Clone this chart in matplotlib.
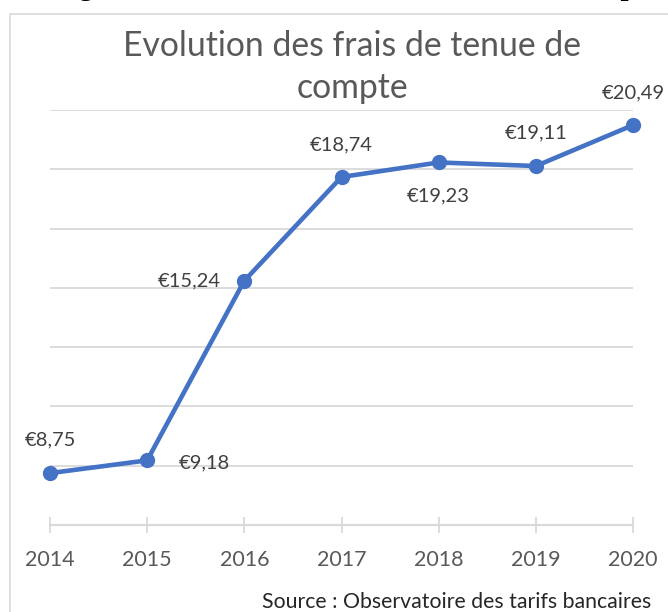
import matplotlib.pyplot as plt
from matplotlib.patches import Rectangle

years = [2014, 2015, 2016, 2017, 2018, 2019, 2020]
frais = [8.75, 9.18, 15.24, 18.74, 19.23, 19.11, 20.49]
labels = ['€8,75', '€9,18', '€15,24', '€18,74', '€19,23', '€19,11', '€20,49']
# position des étiquettes (décalage en pixels)
offsets = [(0, 33), (57, -2), (-55, 0), (0, 32), (0, -33), (0, 33), (0, 32)]

titre = 'Evolution des frais de tenue de\ncompte'
source = 'Source : Observatoire des tarifs bancaires'
entete = 'Figure 1 : Evolution des frais de tenue de compte'

bleu = '#4472C4'
gris_grille = '#D9D9D9'
gris_texte = '#595959'

fig = plt.figure(figsize=(6.68, 6.12), dpi=100)
W, H = 668, 612

# bord de la zone de graphique
fig.patches.append(Rectangle((10 / W, -0.1), 1.2, 1 - 14 / H + 0.1,
                             transform=fig.transFigure, fill=False,
                             edgecolor=gris_grille, linewidth=1.2))

# titre du document coupé en haut (seuls les jambages dépassent)
fig.text(53 / W, 1 + 5 / H, entete, fontsize=21, family='Liberation Serif',
         fontweight='bold', va='baseline', ha='left', color='black')

ax = fig.add_axes([50 / W, 1 - 525 / H, 583 / W, 415 / H])
ax.plot(years, frais, color=bleu, linewidth=3.3, marker='o', markersize=10,
        solid_capstyle='round', zorder=3, clip_on=False)

for x, y, lab, off in zip(years, frais, labels, offsets):
    ax.annotate(lab, (x, y), xytext=off, textcoords='offset pixels',
                ha='center', va='center', fontsize=14.5, color='#404040',
                family='Lato')

ax.set_xlim(2014, 2020)
ax.set_ylim(7, 21)
ax.set_yticks(range(9, 22, 2))
ax.yaxis.grid(True, color=gris_grille, linewidth=1.3)
ax.set_yticklabels([])
ax.tick_params(axis='y', length=0)
ax.set_xticks(years)
ax.set_xticklabels([str(a) for a in years], fontsize=15.5, color=gris_texte,
                   family='Lato')
ax.tick_params(axis='x', direction='inout', length=12, width=1.3,
               color=gris_grille, pad=12)
for side in ['top', 'right', 'left']:
    ax.spines[side].set_visible(False)
ax.spines['bottom'].set_color(gris_grille)
ax.spines['bottom'].set_linewidth(1.6)
ax.set_axisbelow(True)

fig.text(352 / W, 1 - 67 / H, titre, ha='center', va='center', fontsize=24.3,
         color=gris_texte, family='Lato', linespacing=1.38)
fig.text(651 / W, 1 - 602 / H, source, ha='right', va='center', fontsize=15.3,
         color='#262626', family='Lato')

fig.savefig('out.png', dpi=100)
